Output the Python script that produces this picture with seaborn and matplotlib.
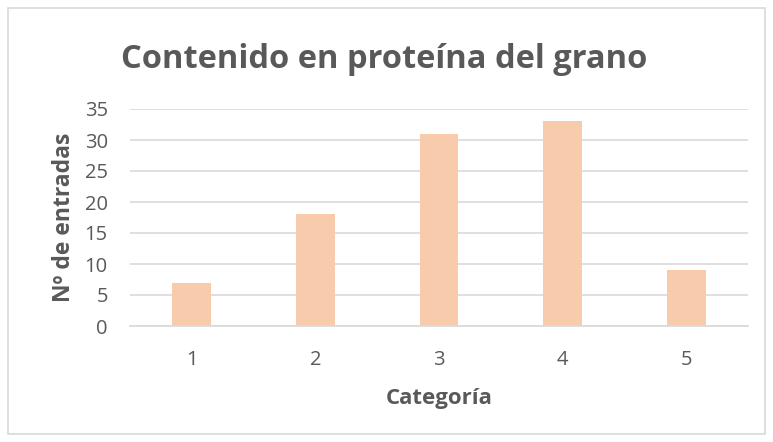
import matplotlib
matplotlib.use("Agg")
import matplotlib.pyplot as plt
import seaborn as sns
import pandas as pd
from matplotlib.patches import Rectangle

categorias = ["1", "2", "3", "4", "5"]
entradas = [7, 18, 31, 33, 9]
y_ticks = [0, 5, 10, 15, 20, 25, 30, 35]

titulo = "Contenido en proteína del grano"
x_label = "Categoría"
y_label = "Nº de entradas"

BAR = "#F8CBAD"
GRID = "#D9D9D9"
TXT = "#595959"

sns.set_theme(style="white")
plt.rcParams["font.family"] = ["Open Sans", "DejaVu Sans"]

df = pd.DataFrame({"cat": categorias, "n": entradas})

fig = plt.figure(figsize=(7.73, 4.42), dpi=100)
ax = fig.add_axes([130 / 773, 1 - 326 / 442, 618 / 773, 217 / 442])

sns.barplot(data=df, x="cat", y="n", color=BAR, width=0.315, ax=ax,
            saturation=1, edgecolor="none")

ax.set_ylim(0, 35)
ax.set_xlim(-0.5, len(categorias) - 0.5)
ax.set_yticks(y_ticks)
ax.yaxis.grid(True, color=GRID, linewidth=1.2)
ax.set_axisbelow(True)
for s in ["top", "right", "left"]:
    ax.spines[s].set_visible(False)
ax.spines["bottom"].set_color(GRID)
ax.spines["bottom"].set_linewidth(1.2)
ax.tick_params(axis="both", length=0, labelsize=14.5, labelcolor=TXT)
ax.tick_params(axis="y", pad=16)
ax.tick_params(axis="x", pad=17)

ax.set_xlabel(x_label, fontsize=16, fontweight="bold", color=TXT, labelpad=13)
ax.set_ylabel(y_label, fontsize=16.5, fontweight="bold", color=TXT, labelpad=6)

fig.text(0.497, 1 - 59 / 442, titulo, ha="center", va="center",
         fontsize=23.5, fontweight="bold", color=TXT)

fig.patches.append(Rectangle((8 / 773, 8 / 442), 757 / 773, 426 / 442,
                             transform=fig.transFigure, fill=False,
                             edgecolor=GRID, linewidth=1.2))

fig.savefig("out.png", dpi=100)
